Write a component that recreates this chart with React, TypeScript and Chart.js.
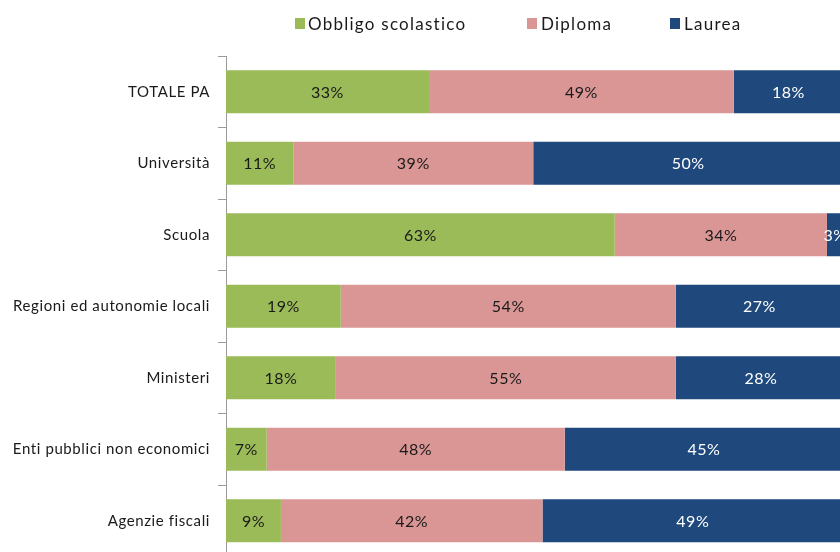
import React, { useEffect, useRef } from "react";
import { Chart, registerables } from "chart.js";

Chart.register(...registerables);

const categories = [
  "TOTALE PA",
  "Università",
  "Scuola",
  "Regioni ed autonomie locali",
  "Ministeri",
  "Enti pubblici non economici",
  "Agenzie fiscali",
];
const seriesNames = ["Obbligo scolastico", "Diploma", "Laurea"];
const obbligo = [32.9, 10.9, 63.0, 18.6, 17.8, 6.6, 8.9];
const diploma = [49.4, 38.9, 34.4, 54.3, 55.1, 48.3, 42.4];
const laurea = [17.7, 50.2, 2.6, 27.1, 27.6, 45.1, 48.7];
const colors = ["#9BBB59", "#D99694", "#1F497D"];
const labelColors = ["#1a1a1a", "#1a1a1a", "#ffffff"];

const FONT = "Lato, 'DejaVu Sans', sans-serif";

const spacing = {
  id: "spacing",
  beforeDraw(chart: any) {
    chart.ctx.letterSpacing = "0.6px";
  },
};

const segLabels = {
  id: "segLabels",
  afterDatasetsDraw(chart: any) {
    const ctx = chart.ctx;
    ctx.save();
    ctx.font = `16px ${FONT}`;
    ctx.letterSpacing = "0.5px";
    ctx.textAlign = "center";
    ctx.textBaseline = "middle";
    chart.data.datasets.forEach((ds: any, i: number) => {
      const meta = chart.getDatasetMeta(i);
      meta.data.forEach((el: any, j: number) => {
        const v = ds.data[j];
        const cx = (el.x + el.base) / 2;
        ctx.fillStyle = labelColors[i];
        ctx.fillText(Math.round(v) + "%", cx, el.y + 1);
      });
    });
    ctx.restore();
  },
};

export default function App() {
  const ref = useRef<HTMLCanvasElement | null>(null);
  useEffect(() => {
    if (!ref.current) return;
    const chart = new Chart(ref.current, {
      type: "bar",
      data: {
        labels: categories,
        datasets: [obbligo, diploma, laurea].map((d, i) => ({
          label: seriesNames[i],
          data: d,
          backgroundColor: colors[i],
          borderWidth: 0,
          barPercentage: 1,
          categoryPercentage: 0.6,
        })),
      },
      options: {
        indexAxis: "y",
        animation: false,
        responsive: false,
        maintainAspectRatio: false,
        layout: { padding: { top: 56, left: 0, right: 17, bottom: 43.5 } },
        plugins: { legend: { display: false }, tooltip: { enabled: false } },
        scales: {
          x: { stacked: true, min: 0, max: 100, display: false },
          y: {
            stacked: true,
            afterFit: (s: any) => {
              s.width = 226;
            },
            border: { display: true, color: "#9a9a9a", width: 1 },
            grid: {
              offset: true,
              drawOnChartArea: false,
              drawTicks: true,
              tickLength: 8,
              color: "#9a9a9a",
            },
            ticks: {
              padding: 8,
              color: "#1a1a1a",
              font: { family: FONT, size: 15 },
            },
          },
        },
      },
      plugins: [spacing, segLabels],
    });
    return () => chart.destroy();
  }, []);

  const legendItem = (i: number, boxLeft: number, textLeft: number) => (
    <React.Fragment key={i}>
      <div
        style={{
          position: "absolute",
          left: boxLeft,
          top: 18,
          width: 10,
          height: 11,
          background: colors[i],
        }}
      />
      <div
        style={{
          position: "absolute",
          left: textLeft,
          top: 14,
          fontFamily: FONT,
          fontSize: 17,
          letterSpacing: "1.25px",
          lineHeight: "20px",
          color: "#1a1a1a",
          whiteSpace: "nowrap",
        }}
      >
        {seriesNames[i]}
      </div>
    </React.Fragment>
  );

  return (
    <div
      style={{
        position: "fixed",
        left: 0,
        top: 0,
        width: 840,
        height: 552,
        overflow: "hidden",
        background: "#fff",
      }}
    >
      <canvas ref={ref} width={860} height={600} style={{ position: "absolute", left: 0, top: 0 }} />
      {legendItem(0, 295, 308)}
      {legendItem(1, 527, 541)}
      {legendItem(2, 670, 684)}
    </div>
  );
}
